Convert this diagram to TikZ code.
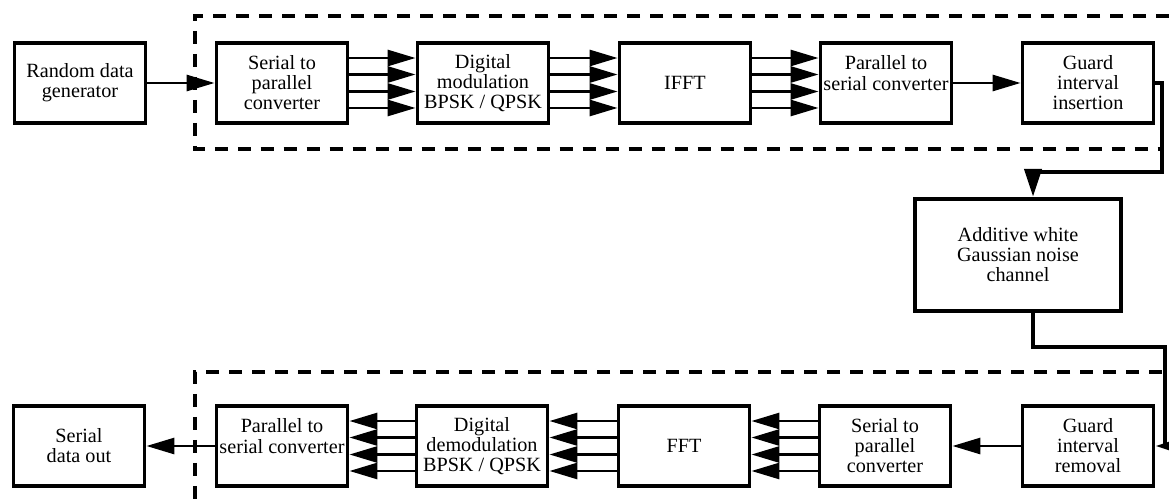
\documentclass[tikz,border=0pt]{standalone}
\usepackage{fontspec}
\setmainfont{Liberation Serif}
\usepackage{tikz}
\usetikzlibrary{arrows.meta, positioning, calc}

\begin{document}
\begin{tikzpicture}[x=0.02cm, y=-0.02cm,
    blk/.style={draw, line width=2.2pt, minimum width=2.62cm, minimum height=1.61cm,
      align=center, inner sep=1pt, font=\fontsize{11.5}{11.4}\selectfont},
    link/.style={line width=1.6pt, -{Triangle[length=0.56cm, width=0.32cm]}},
    wire/.style={line width=2.4pt, -{Triangle[length=0.56cm, width=0.34cm]}},
    grp/.style={line width=2.4pt, dash pattern=on 0.26cm off 0.2cm}]
  \useasboundingbox (0,0) rectangle (1169,500);

  % transmitter
  \node[blk] (gen)  at (80,83)   {Random data\\generator};
  \node[blk] (s2p)  at (282,83)  {Serial to\\parallel\\converter};
  \node[blk] (mod)  at (483,83)  {Digital\\modulation\\BPSK / QPSK};
  \node[blk] (ifft) at (685,83)  {IFFT};
  \node[blk] (p2s)  at (886,83)  {Parallel to\\serial converter\\~};
  \node[blk] (gi)   at (1088,83) {Guard\\interval\\insertion};

  % channel
  \node[blk, minimum width=4.12cm, minimum height=2.25cm] (awgn) at (1018,255)
    {Additive white\\Gaussian noise\\channel};

  % receiver
  \node[blk] (gr)    at (1088,446) {Guard\\interval\\removal};
  \node[blk] (s2pr)  at (885,446)  {Serial to\\parallel\\converter};
  \node[blk] (fft)   at (684,446)  {FFT};
  \node[blk] (demod) at (482,446)  {Digital\\demodulation\\BPSK / QPSK};
  \node[blk] (p2sr)  at (282,446)  {Parallel to\\serial converter\\~};
  \node[blk] (out)   at (79,446)   {Serial\\data out};

  % dashed groups
  \draw[grp] (1169,16) -- (195,16) -- (195,149) -- (1162,149);
  \draw[grp] (1162,372) -- (195,372) -- (195,500);

  % serial links
  \draw[link] (gen) -- (s2p);
  \draw[link] (p2s) -- (gi);
  \draw[link] (gr) -- (s2pr);
  \draw[link] (p2sr) -- (out);

  % parallel links
  \foreach \o in {-0.5cm, -0.17cm, 0.17cm, 0.5cm} {
    \draw[link] ([yshift=\o]s2p.east) -- ([yshift=\o]mod.west);
    \draw[link] ([yshift=\o]mod.east) -- ([yshift=\o]ifft.west);
    \draw[link] ([yshift=\o]ifft.east) -- ([yshift=\o]p2s.west);
    \draw[link] ([yshift=\o]s2pr.west) -- ([yshift=\o]fft.east);
    \draw[link] ([yshift=\o]fft.west) -- ([yshift=\o]demod.east);
    \draw[link] ([yshift=\o]demod.west) -- ([yshift=\o]p2sr.east);
  }

  % to and from the channel
  \coordinate (c1) at (1162,172);
  \coordinate (c2) at (1033,172);
  \coordinate (c3) at (1033,347);
  \coordinate (c4) at (1165,347);
  \draw[wire] (gi.east) -| (c1) -- (c2) -- (c2 |- awgn.north);
  \draw[wire] (c3 |- awgn.south) -- (c3) -- (c4) |- (gr.east);
\end{tikzpicture}
\end{document}
